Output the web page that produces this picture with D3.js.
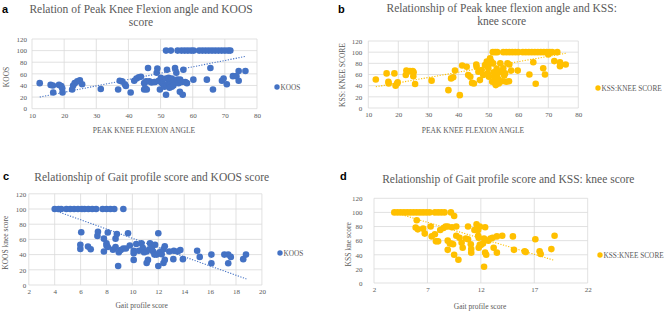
<!DOCTYPE html>
<html>
<head>
<meta charset="utf-8">
<script src="https://cdn.jsdelivr.net/npm/d3@7"></script>
<style>
  body { margin: 0; background: #fff; }
  text { font-family: "Liberation Serif", "Times New Roman", serif; fill: #595959; }
  .panelLabel { font-family: "Liberation Sans", Arial, sans-serif; font-weight: bold; fill: #000; font-size: 11px; }
  .grid line { stroke: #d9d9d9; stroke-width: 0.8; }
</style>
</head>
<body>
<svg id="chart" width="671" height="312"></svg>
<script>
const blue = "#4472C4";
const yellow = "#FFC000";

// a: peak knee flexion angle vs KOOS
const flexionKoos = [
    [12.4,44],[15.8,41],[16.5,40],[16.6,28],[18.4,41],[19.1,39],[19.4,35],[19.5,28],[22.5,33],[22.8,40],
    [23.3,44],[24.1,47],[24.9,49],[25.6,42],[31.4,34],[36.8,33],[37.3,48],[38,47],[38.9,42],[39.2,39],
    [40.7,28],[41.8,48],[42.5,52],[43.2,54],[43.9,55],[44.9,33],[44.9,44],[45.2,35],[45.5,47],[45.7,33],
    [46.1,70],[46.5,47],[47.2,45],[48,46],[48.3,46],[48.8,62],[49,69],[49.4,48],[49.8,33],[50.1,53],
    [50.1,46],[50.5,44],[50.9,42],[51.2,38],[51.7,52],[51.7,24],[52,67],[52,40],[52.5,53],[52.5,44],
    [52.8,36],[53,49],[53,42],[53.5,52],[53.5,38],[54,46],[54,40],[54.5,70],[54.9,62],[54.9,46],
    [55.2,50],[55.6,44],[56,29],[56.1,50],[56.6,46],[56.9,24],[57.1,67],[57.7,46],[58.2,44],[60.2,50],
    [64.4,50],[65.5,70],[66.3,33],[69.1,48],[69.6,52],[70.6,42],[72.5,56],[73.6,56],[74.3,65],[74.3,48],
    [76.4,65],
    [51.7,100],[53.2,100],[55.3,100],[56.5,100],[57.5,100],[58.5,100],[59.5,100],[60.3,100],[62,100],[63,100],
    [64,100],[65,100],[66,100],[67,100],[68,100],[69,100],[70,100],[71,100],[71.7,100]
];

// b: peak knee flexion angle vs KSS knee score
const flexionKss = [
    [12.5,51],[16.1,62],[16.7,47],[16.8,44],[18.7,62],[19.1,40],[19.6,44],[19.8,46],[22.5,59],[22.7,67],
    [23.9,66],[24.8,66],[25.1,64],[25,57],[25.6,43],[31.1,49],[36.7,32],[37.6,53],[38.3,55],[38.9,67],
    [40.5,23],[41.3,76],[42.8,74],[43.3,59],[44,56],[44.6,45],[45.2,44],[46,78],[46.1,74],[46.7,65],
    [47.2,50],[47.8,68],[48.3,59],[48.9,77],[49.5,83],[49.8,62],[50,71],[50.2,56],[50.6,89],[50.7,80],
    [51,83],[51.3,47],[51.6,80],[51.8,64],[52,56],[52.2,45],[52.5,41],[52.8,70],[53,60],[53.3,52],
    [53.5,44],[54,80],[54.2,65],[54.6,48],[55,71],[55.3,58],[55.6,62],[56,47],[56.4,80],[56.9,48],
    [57,78],[57.6,67],[59.8,67],[63.7,60],[65,82],[65.8,43.5],[68.3,71],[68.9,60],[70,96],[72,84],
    [73.9,82],[73.9,75],[75.8,78],
    [51.5,100],[52.3,100],[53,100],[55,100],[56,100],[57,100],[58,100],[59,100],[60,100],[61.5,100],
    [62.5,100],[63.5,100],[64.5,100],[65.5,100],[66.5,100],[67.5,100],[68.5,100],[69.5,100],[70.5,100],[71.3,100],
    [73,100]
];

// c: gait profile score vs KOOS
const gpsKoos = [
    [4,100],[4.3,100],[4.5,100],[4.9,100],[5.2,100],[5.5,100],[5.8,100],[6.1,100],[6.3,100],[6.6,100],
    [6.9,100],[7.2,100],[7.7,100],[8,100],[8.3,100],[8.6,100],[9.3,100],
    [5.98,53],[5.98,47.5],[6.05,69.5],[6.57,50.5],[6.78,47],[7.34,70],[7.3,64.6],[7.8,44],[7.8,61],[8,52],
    [8,55],[8.1,50],[8.1,69],[8.5,46.5],[8.7,50],[8.7,61],[8.8,67],[8.9,25],[8.95,43],[9.1,46],
    [9.3,48],[9.5,48],[9.66,68],[9.8,52],[10.1,45],[10.1,41.8],[10.1,33],[10.3,54],[10.5,45],[10.7,55],
    [10.8,49],[10.9,43],[11.1,44],[11.1,29],[11.2,33],[11.3,47],[11.36,55],[11.5,48],[11.6,44],[11.7,40],
    [11.75,53],[11.88,40],[12,68],[12,25],[12.1,43],[12.26,40.5],[12.4,47],[12.4,29],[12.5,33],[12.5,51],
    [12.85,44],[13.16,34],[13.2,45],[13.5,44],[13.7,46],[13.9,34],[15,45],[15.2,37],[16.1,40],[16.1,28.6],
    [17.1,40],[17.4,40],[17.4,28.6],[17.6,37],[18.56,34],[18.77,40]
];

// d: gait profile score vs KSS knee score
const gpsKss = [
    [3.9,100],[4.2,100],[4.5,100],[4.8,100],[5.1,100],[5.4,100],[5.7,100],[6,100],[6.3,100],[6.6,100],
    [6.9,100],[7.2,100],[7.7,100],[8,100],[8.3,100],[8.6,100],[9.2,100],[9.5,95],
    [6,89],[5.9,78.6],[6.1,76],[6.6,77],[6.75,70],[7.3,80],[7.4,66],[7.7,69],[7.8,59],[8,59],
    [8.2,75],[8.5,78],[8.7,80],[8.9,80],[8.9,60],[8.9,47],[9.1,56],[9.25,56],[9.3,79],[9.4,55],
    [9.5,40],[9.7,80],[9.7,67],[10,64],[9.9,33],[10.2,57],[10.3,50],[10.6,63],[10.8,62],[10.8,80],
    [11.06,55],[11.1,43],[11.1,48],[11.4,75],[11.6,83],[11.75,67],[11.75,75],[11.8,64],[11.8,50],[11.9,54],
    [11.9,80],[12,54],[12.2,56],[12.3,23],[12.3,63],[12.4,79],[12.4,43],[12.5,40],[12.7,60],[12.9,63],
    [13.1,64],[13.2,50],[13.5,43],[13.5,66],[14,67],[15,66],[15.1,47],[16.1,45],[16.2,44],[17.1,62],
    [17.5,45],[17.6,41],[18.6,48],[18.9,67]
];

// dotted linear trend lines (end points)
const trendA = [[12.4,20],[76.4,90]];
const trendB = [[12.5,38],[75.8,98]];
const trendC = [[4,98],[18.8,8]];
const trendD = [[3.9,100],[18.9,32]];

// axis ticks
const flexionTicks = [10,20,30,40,50,60,70,80];
const gpsTicksC = [2,4,6,8,10,12,14,16,18,20];
const gpsTicksD = [2,7,12,17,22];
const scoreTicks = [0,20,40,60,80,100,120];

const svg = d3.select("#chart");

const panels = [
    { label: "a", data: flexionKoos, trend: trendA, color: blue, xTicks: flexionTicks,
      box: [32, 257, 39, 108.7], yGap: 5, title: ["Relation of Peak Knee Flexion angle and KOOS", "score"],
      titleX: 141, titleY: 12.7, labelY: 13.3, labelX: 2,
      xTitle: "PEAK KNEE FLEXION ANGLE", xTitlePos: [144, 132.5], yTitle: "KOOS", yTitlePos: [8.5, 77],
      legend: "KOOS", legendPos: [277, 87] },
    { label: "b", data: flexionKss, trend: trendB, color: yellow, xTicks: flexionTicks,
      box: [368.3, 578.3, 41, 108], yGap: 6, title: ["Relationship of Peak knee flexion angle and KSS:", "knee score"],
      titleX: 501.7, titleY: 11.7, labelY: 13.3, labelX: 338,
      xTitle: "PEAK KNEE FLEXION ANGLE", xTitlePos: [473, 132.5], yTitle: "KSS: KNEE SCORE", yTitlePos: [345, 75],
      legend: "KSS:KNEE SCORE", legendPos: [598, 88] },
    { label: "c", data: gpsKoos, trend: trendC, color: blue, xTicks: gpsTicksC,
      box: [28.8, 261.9, 193.8, 285], yGap: 2.5, title: ["Relationship of Gait profile score and KOOS score"],
      titleX: 151.7, titleY: 181, labelY: 180, labelX: 3,
      xTitle: "Gait profile score", xTitlePos: [141.7, 307.5], yTitle: "KOOS knee score", yTitlePos: [7.5, 242.7],
      legend: "KOOS", legendPos: [280, 253] },
    { label: "d", data: gpsKss, trend: trendD, color: yellow, xTicks: gpsTicksD,
      box: [374, 587.7, 198.3, 283], yGap: 11.5, title: ["Relationship of Gait profile score and KSS: knee score"],
      titleX: 508.3, titleY: 182.7, labelY: 180, labelX: 340,
      xTitle: "Gait profile score", xTitlePos: [480, 308.5], yTitle: "KSS kne score", yTitlePos: [350.5, 244.3],
      legend: "KSS:KNEE SCORE", legendPos: [600, 255] }
];

panels.forEach(drawPanel);

function drawPanel(p) {
    const [left, right, top, bottom] = p.box;
    const x = d3.scaleLinear().domain(d3.extent(p.xTicks)).range([left, right]);
    const y = d3.scaleLinear().domain([0, 120]).range([bottom, top]);
    const g = svg.append("g");

    // gridlines
    const grid = g.append("g").attr("class", "grid");
    grid.selectAll(".h").data(scoreTicks).join("line")
        .attr("x1", left).attr("x2", right)
        .attr("y1", d => y(d)).attr("y2", d => y(d));
    grid.selectAll(".v").data(p.xTicks).join("line")
        .attr("x1", d => x(d)).attr("x2", d => x(d))
        .attr("y1", top).attr("y2", bottom);

    // axes (labels only, the lines come from the grid)
    const xAxis = g.append("g")
        .attr("transform", `translate(0,${bottom + 4})`)
        .call(d3.axisBottom(x).tickValues(p.xTicks).tickSize(0).tickPadding(0));
    const yAxis = g.append("g")
        .attr("transform", `translate(${left - p.yGap},0)`)
        .call(d3.axisLeft(y).tickValues(scoreTicks).tickSize(0).tickPadding(0));
    [xAxis, yAxis].forEach(a => {
        a.select(".domain").remove();
        a.selectAll("text").attr("font-family", null).attr("font-size", 7).style("fill", "#595959");
    });

    // points
    g.append("g").selectAll("circle").data(p.data).join("circle")
        .attr("cx", d => x(d[0])).attr("cy", d => y(d[1]))
        .attr("r", 3.3).attr("fill", p.color);

    // trend line
    g.append("path")
        .attr("d", d3.line().x(d => x(d[0])).y(d => y(d[1]))(p.trend))
        .attr("stroke", p.color).attr("stroke-width", 1.1)
        .attr("stroke-dasharray", "1.2 1.5").attr("fill", "none");

    // titles
    const t = g.append("text").attr("text-anchor", "middle").attr("font-size", 11.5);
    p.title.forEach((line, i) => {
        t.append("tspan").attr("x", p.titleX).attr("y", p.titleY + i * 13).text(line);
    });
    g.append("text").attr("class", "panelLabel")
        .attr("x", p.labelX).attr("y", p.labelY).text(p.label);

    g.append("text").attr("text-anchor", "middle").attr("font-size", 7.5)
        .attr("x", p.xTitlePos[0]).attr("y", p.xTitlePos[1]).text(p.xTitle);
    g.append("text").attr("text-anchor", "middle").attr("font-size", 7.5)
        .attr("transform", `translate(${p.yTitlePos[0]},${p.yTitlePos[1]}) rotate(-90)`)
        .text(p.yTitle);

    // legend
    g.append("circle").attr("cx", p.legendPos[0]).attr("cy", p.legendPos[1])
        .attr("r", 2.7).attr("fill", p.color);
    g.append("text").attr("font-size", 7.3)
        .attr("x", p.legendPos[0] + 3.5).attr("y", p.legendPos[1] + 2.5).text(p.legend);
}
</script>
</body>
</html>
